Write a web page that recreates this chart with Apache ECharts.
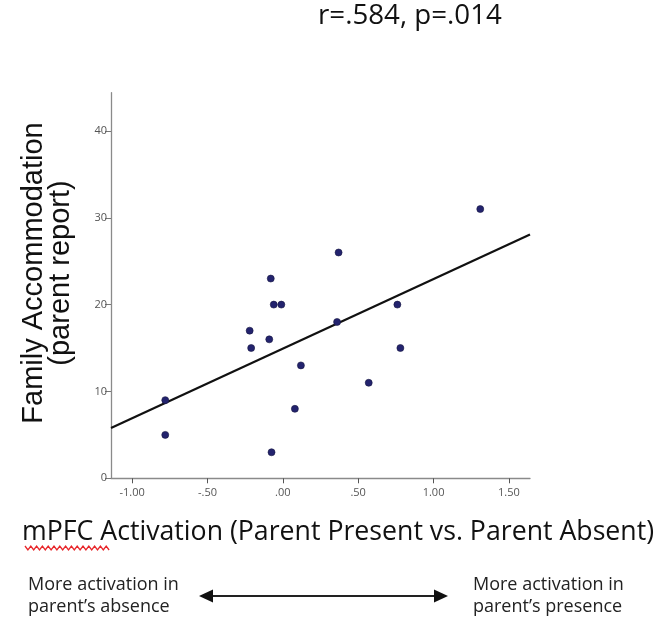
<!DOCTYPE html>
<html>
<head>
<meta charset="utf-8">
<script src="https://cdn.jsdelivr.net/npm/echarts@6/dist/echarts.min.js"></script>
<style>
  html, body { margin: 0; padding: 0; background: #fff; }
  #chart { width: 658px; height: 620px; }
</style>
</head>
<body>
<div id="chart"></div>
<script>
// mPFC activation (parent present vs absent) per participant
const activation = [1.31, 0.37, -0.08, -0.06, -0.01, 0.76, 0.36, -0.22, -0.09, -0.21, 0.78, 0.12, 0.57, -0.78, 0.08, -0.78, -0.075]
// family accommodation score (parent report)
const accommodation = [31, 26, 23, 20, 20, 20, 18, 17, 16, 15, 15, 13, 11, 9, 8, 5, 3]

const xTicks = [-1, -0.5, 0, 0.5, 1, 1.5]
const yTicks = [0, 10, 20, 30, 40]
const xMin = -1.14
const xMax = 1.64

// least squares fit line
function fitLine(xs, ys) {
  const n = xs.length
  const mx = xs.reduce((a, b) => a + b, 0) / n
  const my = ys.reduce((a, b) => a + b, 0) / n
  let sxy = 0
  let sxx = 0
  for (let i = 0; i < n; i++) {
    sxy += (xs[i] - mx) * (ys[i] - my)
    sxx += (xs[i] - mx) * (xs[i] - mx)
  }
  const slope = sxy / sxx
  return { slope, intercept: my - slope * mx }
}
const fit = fitLine(activation, accommodation)

function fmtTick(v) {
  // SPSS style: .50, -.50, 1.00
  return v.toFixed(2).replace(/^(-?)0\./, '$1.')
}

// red spell-check squiggle under "mPFC"
const squiggle = []
for (let i = 0; i <= 29; i++) {
  squiggle.push([25 + i * 2.9, i % 2 === 0 ? 546 : 550])
}

const chart = echarts.init(document.getElementById('chart'))
chart.setOption({
  animation: false,
  grid: { left: 111, right: 128, top: 92.7, bottom: 141.7 },
  xAxis: {
    type: 'value',
    min: xMin,
    max: xMax,
    splitLine: { show: false },
    axisLine: { onZero: false, lineStyle: { color: '#8a8a8a', width: 1.3 } },
    axisTick: { show: true, length: 5, lineStyle: { color: '#555' }, customValues: xTicks },
    axisLabel: {
      customValues: xTicks,
      formatter: fmtTick,
      color: '#555',
      fontFamily: 'Open Sans',
      fontSize: 11,
      margin: 9
    }
  },
  yAxis: {
    type: 'value',
    min: 0,
    max: 44.4,
    splitLine: { show: false },
    axisLine: { show: true, onZero: false, lineStyle: { color: '#8a8a8a', width: 1.3 } },
    axisTick: { show: true, length: 6, lineStyle: { color: '#777' }, customValues: yTicks },
    axisLabel: {
      customValues: yTicks,
      color: '#555',
      fontFamily: 'Open Sans',
      fontSize: 11,
      margin: 4
    }
  },
  series: [
    {
      type: 'line',
      data: [[xMin, fit.intercept + fit.slope * xMin], [xMax, fit.intercept + fit.slope * xMax]],
      symbol: 'none',
      lineStyle: { color: '#111', width: 2.2 },
      z: 2
    },
    {
      type: 'scatter',
      data: activation.map((x, i) => [x, accommodation[i]]),
      symbolSize: 7,
      itemStyle: { color: '#23236e', borderColor: '#15153f', borderWidth: 0.6, opacity: 1 },
      z: 3
    }
  ],
  graphic: [
    {
      type: 'text',
      left: 318,
      top: 2,
      style: { text: 'r=.584, p=.014', font: '27.7px "Open Sans"', fill: '#111' }
    },
    {
      type: 'text',
      x: 47,
      y: 273,
      rotation: Math.PI / 2,
      style: {
        text: 'Family Accommodation\n(parent report)',
        font: '29px "Liberation Sans"',
        fill: '#111',
        align: 'center',
        verticalAlign: 'middle',
        lineHeight: 27
      }
    },
    {
      type: 'text',
      x: 22,
      y: 532,
      style: {
        text: 'mPFC Activation (Parent Present vs. Parent Absent)',
        font: '26.7px "Open Sans"',
        fill: '#111',
        verticalAlign: 'middle'
      }
    },
    {
      type: 'polyline',
      shape: { points: squiggle },
      style: { stroke: '#e8262a', lineWidth: 1.3, fill: null }
    },
    {
      type: 'text',
      x: 28,
      y: 596,
      style: {
        text: 'More activation in\nparent\u2019s absence',
        font: '18px "Open Sans"',
        fill: '#222',
        verticalAlign: 'middle',
        lineHeight: 22
      }
    },
    {
      type: 'text',
      x: 473,
      y: 596,
      style: {
        text: 'More activation in\nparent\u2019s presence',
        font: '18px "Open Sans"',
        fill: '#222',
        verticalAlign: 'middle',
        lineHeight: 22
      }
    },
    {
      type: 'line',
      shape: { x1: 210, y1: 596, x2: 437, y2: 596 },
      style: { stroke: '#222', lineWidth: 2 }
    },
    {
      type: 'polygon',
      shape: { points: [[199, 596], [213, 589.5], [213, 602.5]] },
      style: { fill: '#111' }
    },
    {
      type: 'polygon',
      shape: { points: [[448, 596], [434, 589.5], [434, 602.5]] },
      style: { fill: '#111' }
    }
  ]
})
</script>
</body>
</html>
